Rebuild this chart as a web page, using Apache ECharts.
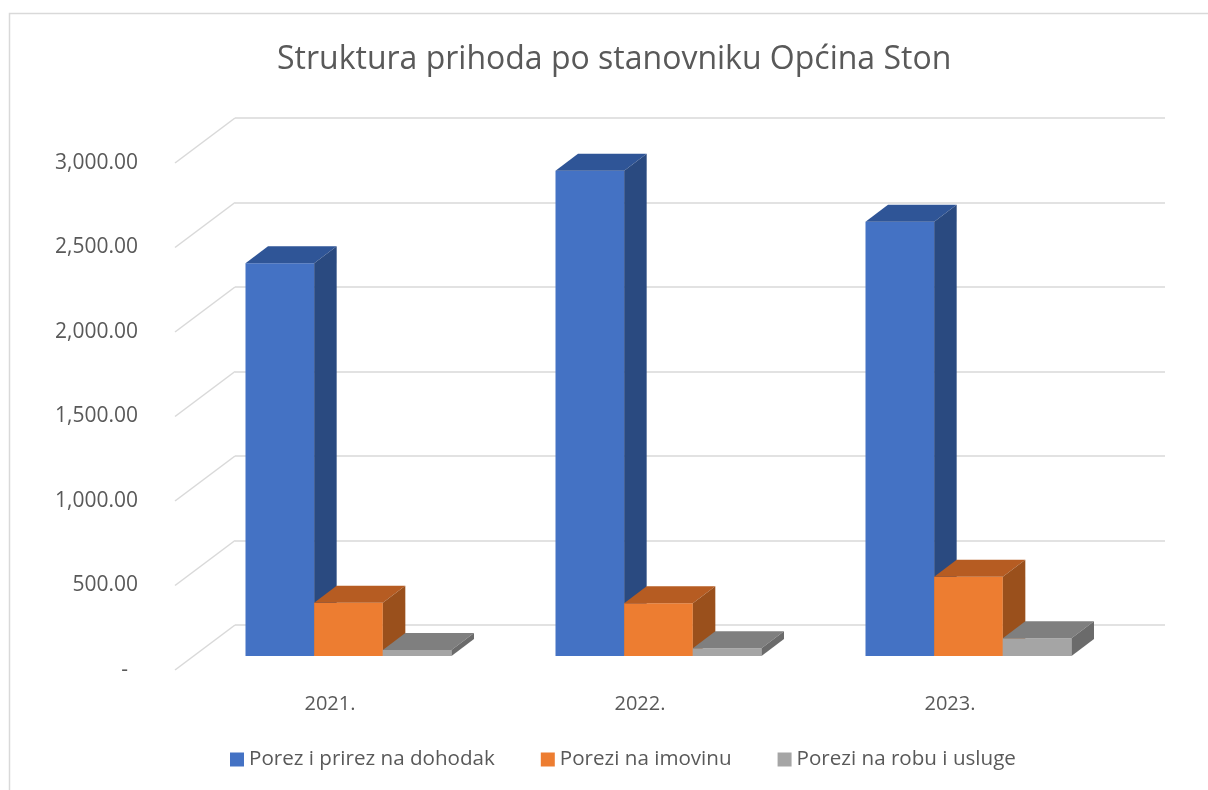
<!DOCTYPE html>
<html>
<head>
<meta charset="utf-8">
<script src="https://cdn.jsdelivr.net/npm/echarts@6/dist/echarts.min.js"></script>
<style>
  html, body { margin: 0; padding: 0; background: #fff; }
  #chart { width: 1208px; height: 790px; }
</style>
</head>
<body>
<div id="chart"></div>
<script>
// chart data
const categories = ['2021.', '2022.', '2023.'];
const dohodak = [2324, 2871, 2570];
const imovina = [315, 312, 469];
const robaUsluge = [36, 46, 105];
const seriesNames = ['Porez i prirez na dohodak', 'Porezi na imovinu', 'Porezi na robu i usluge'];
const yTicks = [0, 500, 1000, 1500, 2000, 2500, 3000];

// face colours: front, top, side
const palette = [
    ['#4472C4', '#2F5597', '#2A4A80'],
    ['#ED7D31', '#B65C22', '#9A501C'],
    ['#A5A5A5', '#7F7F7F', '#6B6B6B']
];

const chart = echarts.init(document.getElementById('chart'));
const FONT = '"Open Sans", "Noto Sans", sans-serif';

// 3d box for one series in a category group
const makeBarRenderer = (seriesIdx) => (params, api) => {
    const top = api.coord([api.value(0), api.value(1)]);
    const base = api.coord([api.value(0), 0]);
    const band = api.size([1, 0])[0];
    const bw = band * 0.2215;
    const ox = 18.5, oy = -14;   // bar front face depth
    const dx = 22.5, dy = -17;   // bar depth
    const x0 = top[0] - 1.5 * bw + seriesIdx * bw + ox;
    const yt = top[1] + oy;
    const yb = base[1] + oy;
    const c = palette[seriesIdx];
    return {
        type: 'group',
        children: [
            {
                type: 'rect',
                shape: { x: x0, y: yt, width: bw, height: yb - yt },
                style: { fill: c[0] }
            },
            {
                type: 'polygon',
                shape: { points: [[x0, yt], [x0 + bw, yt], [x0 + bw + dx, yt + dy], [x0 + dx, yt + dy]] },
                style: { fill: c[1] }
            },
            {
                type: 'polygon',
                shape: { points: [[x0 + bw, yt], [x0 + bw + dx, yt + dy], [x0 + bw + dx, yb + dy], [x0 + bw, yb]] },
                style: { fill: c[2] }
            }
        ]
    };
};

const barSeries = [dohodak, imovina, robaUsluge].map((vals, s) => ({
    name: seriesNames[s],
    type: 'custom',
    xAxisIndex: 0,
    yAxisIndex: 0,
    itemStyle: { color: palette[s][0] },
    renderItem: makeBarRenderer(s),
    data: categories.map((c, i) => [i, vals[i]]),
    z: 3
}));

const option = {
    backgroundColor: '#fff',
    animation: false,
    title: {
        text: 'Struktura prihoda po stanovniku Općina Ston',
        left: 272,
        top: 39,
        textStyle: { fontFamily: FONT, fontSize: 32, fontWeight: 'normal', color: '#595959' }
    },
    graphic: [{
        type: 'rect',
        shape: { x: 9.5, y: 13.5, width: 1300, height: 900 },
        style: { fill: 'none', stroke: '#d9d9d9', lineWidth: 1.5 },
        silent: true
    }],
    legend: {
        data: seriesNames,
        bottom: 15,
        left: 225,
        icon: 'rect',
        itemWidth: 14,
        itemHeight: 14,
        itemGap: 46,
        textStyle: { fontFamily: FONT, fontSize: 20.6, color: '#595959' }
    },
    grid: [
        // front plane
        { left: 175, right: 103, top: 163, bottom: 120 },
        // back wall
        { left: 235, right: 43, top: 118, bottom: 165 }
    ],
    xAxis: [
        {
            type: 'category',
            gridIndex: 0,
            data: categories,
            axisLine: { show: false },
            axisTick: { show: false },
            axisLabel: { margin: 24, fontFamily: FONT, fontSize: 20, color: '#595959' }
        },
        {
            type: 'category',
            gridIndex: 1,
            data: categories,
            show: false
        }
    ],
    yAxis: [
        {
            type: 'value',
            gridIndex: 0,
            min: 0,
            max: 3000,
            interval: 500,
            splitLine: { show: false },
            axisLine: { show: false },
            axisTick: { show: false },
            axisLabel: {
                margin: 37,
                fontFamily: FONT,
                fontSize: 21,
                color: '#595959',
                formatter: (v) => v === 0 ? '{d|-}' : v.toLocaleString('en-US', { minimumFractionDigits: 2, maximumFractionDigits: 2 }),
                rich: { d: { padding: [0, 10, 0, 0], fontFamily: FONT, fontSize: 21, color: '#595959' } }
            }
        },
        {
            type: 'value',
            gridIndex: 1,
            min: 0,
            max: 3000,
            interval: 500,
            axisLine: { show: false },
            axisTick: { show: false },
            axisLabel: { show: false },
            splitLine: { lineStyle: { color: '#d9d9d9', width: 1.5 } }
        }
    ],
    series: [
        {
            // side wall diagonals
            type: 'custom',
            xAxisIndex: 0,
            yAxisIndex: 0,
            silent: true,
            z: 1,
            renderItem: (params, api) => {
                const p = api.coord([0, api.value(1)]);
                const x = params.coordSys.x;
                return {
                    type: 'line',
                    shape: { x1: x, y1: p[1], x2: x + 60, y2: p[1] - 45 },
                    style: { stroke: '#d9d9d9', lineWidth: 1.5 }
                };
            },
            data: yTicks.map((v) => [0, v])
        },
        ...barSeries
    ]
};

chart.setOption(option);
</script>
</body>
</html>
